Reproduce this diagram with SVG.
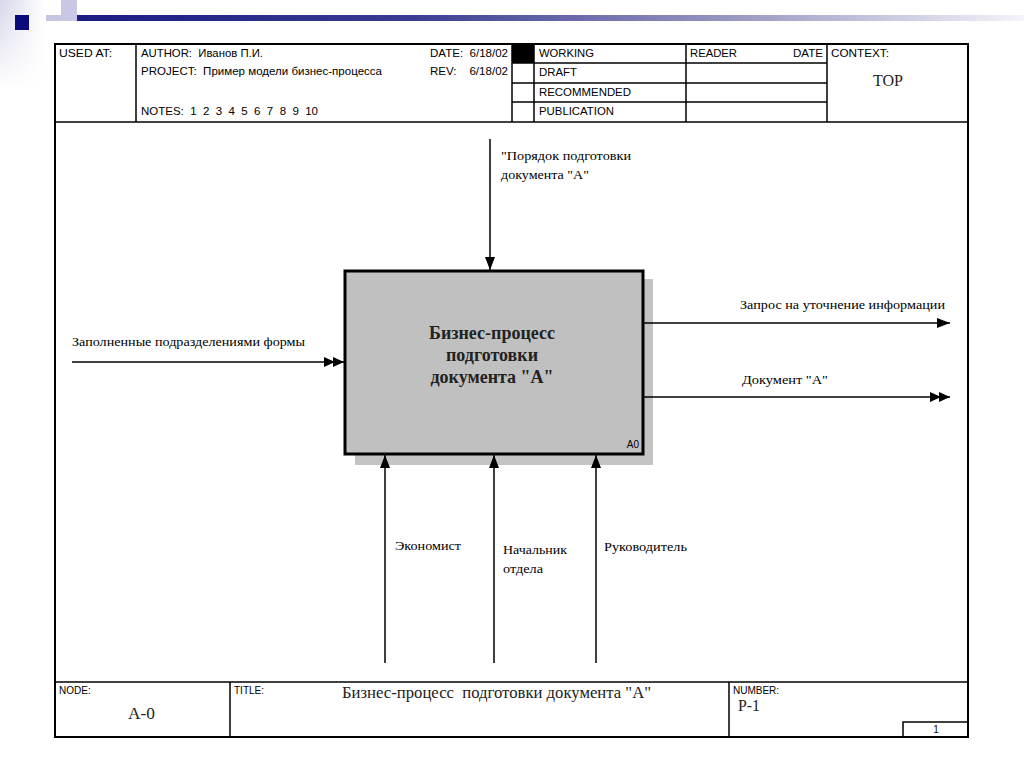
<svg xmlns="http://www.w3.org/2000/svg" width="1024" height="768" viewBox="0 0 1024 768" xml:space="preserve">
<defs>
<linearGradient id="bar" gradientUnits="userSpaceOnUse" x1="77" y1="0" x2="1024" y2="0">
<stop offset="0" stop-color="#1c1c84"/>
<stop offset="0.35" stop-color="#3a3a92"/>
<stop offset="0.7" stop-color="#9a9ac4"/>
<stop offset="1" stop-color="#f4f4fa"/>
</linearGradient>
<linearGradient id="side" x1="0" y1="0" x2="1" y2="0">
<stop offset="0" stop-color="#d6d6ea"/>
<stop offset="1" stop-color="#ffffff"/>
</linearGradient>
<linearGradient id="sidev" x1="0" y1="0" x2="0" y2="1">
<stop offset="0" stop-color="#ffffff" stop-opacity="0"/>
<stop offset="1" stop-color="#ffffff" stop-opacity="1"/>
</linearGradient>
<marker id="a1" markerUnits="userSpaceOnUse" markerWidth="16" markerHeight="12" refX="13" refY="5" orient="auto">
<path d="M0,0 L13,5 L0,10 z" fill="#000"/>
</marker>
<marker id="a2" markerUnits="userSpaceOnUse" markerWidth="24" markerHeight="12" refX="20" refY="5" orient="auto">
<path d="M0,0 L11,5 L0,10 z M9,0 L20,5 L9,10 z" fill="#000"/>
</marker>
</defs>
<style>
text{white-space:pre}
.hd{font-family:"Liberation Sans",Arial,sans-serif;font-size:11px;fill:#000}
.sm{font-family:"Liberation Sans",Arial,sans-serif;font-size:10px;fill:#000}
.lb{font-family:"Liberation Serif","Times New Roman",serif;font-size:13px;fill:#000}
.big{font-family:"Liberation Serif","Times New Roman",serif;font-size:16px;fill:#222}
.ttl{font-family:"Liberation Serif","Times New Roman",serif;font-size:18px;font-weight:bold;fill:#222;text-anchor:middle}
.frm{fill:none;stroke:#000;stroke-width:2}
.ln{stroke:#000;stroke-width:1.5}
.cn{stroke:#000;stroke-width:1.5;fill:none}
</style>
<rect width="1024" height="768" fill="#fff"/>
<g id="decor">
<rect x="0" y="0" width="45" height="90" fill="url(#side)"/>
<rect x="0" y="0" width="45" height="90" fill="url(#sidev)"/>
<rect x="46" y="15" width="31" height="6" fill="#c6c6e2"/>
<rect x="61" y="0" width="16" height="21" fill="#c8c8e4"/>
<rect x="77" y="15" width="947" height="6" fill="url(#bar)"/>
<rect x="15" y="15" width="14" height="15" fill="#0a0a7a"/>
</g>
<g id="frame">
<rect x="55" y="44" width="913" height="693" class="frm"/>
<line x1="55" y1="122" x2="968" y2="122" class="ln"/>
<line x1="55" y1="682" x2="968" y2="682" class="ln"/>
<line x1="136" y1="44" x2="136" y2="122" class="ln"/>
<line x1="512" y1="44" x2="512" y2="122" class="ln"/>
<line x1="534" y1="44" x2="534" y2="122" class="ln"/>
<line x1="686" y1="44" x2="686" y2="122" class="ln"/>
<line x1="827" y1="44" x2="827" y2="122" class="ln"/>
<line x1="512" y1="63" x2="827" y2="63" class="ln"/>
<line x1="512" y1="83" x2="827" y2="83" class="ln"/>
<line x1="512" y1="102" x2="827" y2="102" class="ln"/>
<rect x="512" y="44" width="22" height="19" fill="#000"/>
<line x1="230" y1="682" x2="230" y2="737" class="ln"/>
<line x1="729" y1="682" x2="729" y2="737" class="ln"/>
<rect x="903" y="722" width="65" height="15" fill="none" stroke="#000" stroke-width="1.5"/>
</g>
<g id="header-text">
<text class="hd" x="59" y="57" textLength="53" lengthAdjust="spacingAndGlyphs">USED AT:</text>
<text class="hd" x="141" y="57" textLength="122" lengthAdjust="spacingAndGlyphs">AUTHOR:  Иванов П.И.</text>
<text class="hd" x="430" y="57" textLength="78" lengthAdjust="spacingAndGlyphs">DATE:  6/18/02</text>
<text class="hd" x="141" y="75" textLength="241" lengthAdjust="spacingAndGlyphs">PROJECT:  Пример модели бизнес-процесса</text>
<text class="hd" x="430" y="75" textLength="78" lengthAdjust="spacingAndGlyphs">REV:    6/18/02</text>
<text class="hd" x="141" y="115" textLength="177" lengthAdjust="spacingAndGlyphs">NOTES:  1  2  3  4  5  6  7  8  9  10</text>
<text class="hd" x="539" y="57" textLength="55" lengthAdjust="spacingAndGlyphs">WORKING</text>
<text class="hd" x="539" y="76" textLength="38" lengthAdjust="spacingAndGlyphs">DRAFT</text>
<text class="hd" x="539" y="96" textLength="92" lengthAdjust="spacingAndGlyphs">RECOMMENDED</text>
<text class="hd" x="539" y="115" textLength="75" lengthAdjust="spacingAndGlyphs">PUBLICATION</text>
<text class="hd" x="690" y="57" textLength="47" lengthAdjust="spacingAndGlyphs">READER</text>
<text class="hd" x="793" y="57" textLength="30" lengthAdjust="spacingAndGlyphs">DATE</text>
<text class="hd" x="831" y="57" textLength="58" lengthAdjust="spacingAndGlyphs">CONTEXT:</text>
<text class="big" x="873" y="86" textLength="30" lengthAdjust="spacingAndGlyphs">TOP</text>
</g>
<g id="footer-text">
<text class="sm" x="59" y="694">NODE:</text>
<text class="big" x="128" y="719" textLength="27" lengthAdjust="spacingAndGlyphs">A-0</text>
<text class="sm" x="234" y="694">TITLE:</text>
<text class="big" x="342" y="698" textLength="309" lengthAdjust="spacingAndGlyphs">Бизнес-процесс  подготовки документа "A"</text>
<text class="sm" x="733" y="694">NUMBER:</text>
<text class="big" x="738" y="711" textLength="22" lengthAdjust="spacingAndGlyphs">P-1</text>
<text class="sm" x="936" y="733" text-anchor="middle">1</text>
</g>
<rect id="shadow" x="355" y="279" width="298" height="186" fill="#c4c4c4"/>
<g id="connectors">
<line x1="490" y1="139" x2="490" y2="270" class="cn" marker-end="url(#a1)"/>
<line x1="72" y1="362" x2="344" y2="362" class="cn" marker-end="url(#a2)"/>
<line x1="644" y1="323" x2="950" y2="323" class="cn" marker-end="url(#a1)"/>
<line x1="644" y1="397" x2="950" y2="397" class="cn" marker-end="url(#a2)"/>
<line x1="385" y1="663" x2="385" y2="455" class="cn" marker-end="url(#a1)"/>
<line x1="494" y1="663" x2="494" y2="455" class="cn" marker-end="url(#a1)"/>
<line x1="596" y1="663" x2="596" y2="455" class="cn" marker-end="url(#a1)"/>
<text class="lb" x="501" y="160" textLength="130" lengthAdjust="spacingAndGlyphs">"Порядок подготовки</text>
<text class="lb" x="501" y="179" textLength="88" lengthAdjust="spacingAndGlyphs">документа "A"</text>
<text class="lb" x="72" y="346" textLength="233" lengthAdjust="spacingAndGlyphs">Заполненные подразделениями формы</text>
<text class="lb" x="740" y="309" textLength="205" lengthAdjust="spacingAndGlyphs">Запрос на уточнение информации</text>
<text class="lb" x="742" y="384" textLength="86" lengthAdjust="spacingAndGlyphs">Документ "A"</text>
<text class="lb" x="395" y="550" textLength="66" lengthAdjust="spacingAndGlyphs">Экономист</text>
<text class="lb" x="503" y="554" textLength="64" lengthAdjust="spacingAndGlyphs">Начальник</text>
<text class="lb" x="503" y="573" textLength="40" lengthAdjust="spacingAndGlyphs">отдела</text>
<text class="lb" x="604" y="551" textLength="83" lengthAdjust="spacingAndGlyphs">Руководитель</text>
</g>
<g id="node-A0">
<rect x="345" y="271" width="298" height="183" fill="#c0c0c0" stroke="#000" stroke-width="3"/>
<text class="ttl" x="492" y="339">Бизнес-процесс</text>
<text class="ttl" x="492" y="361">подготовки</text>
<text class="ttl" x="492" y="383">документа "A"</text>
<text class="sm" x="639" y="448" text-anchor="end">A0</text>
</g>
</svg>
